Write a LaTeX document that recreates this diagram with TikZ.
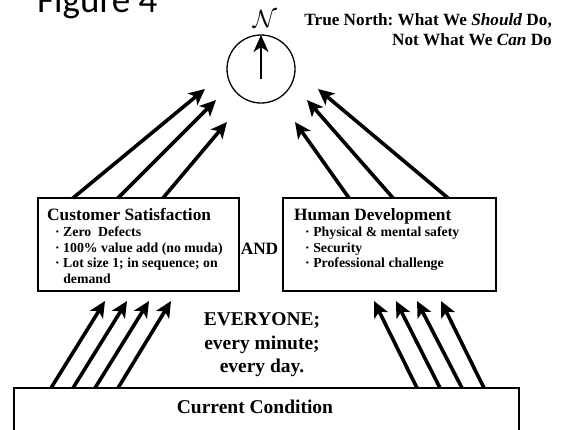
\documentclass[tikz,border=0pt]{standalone}
\usepackage{fontspec}
\setmainfont{Liberation Serif}
\newfontfamily\figfont{Carlito}
\frenchspacing
\usetikzlibrary{positioning,arrows.meta,calc}
\tikzset{panel/.style={draw,line width=2.8pt,outer sep=0pt,inner sep=0pt},
  bigarrow/.style={line width=3.6pt,-{Stealth[length=16pt,width=15pt,inset=4pt]}},
  hd/.style={font=\fontsize{17.3}{20}\selectfont\bfseries,inner sep=0pt},
  items/.style={font=\fontsize{13.8}{15.7}\selectfont\bfseries,align=left,inner sep=0pt}}

\begin{document}
\begin{tikzpicture}[x=1pt,y=-1pt]
    \clip (0,0) rectangle (569,429);
    \node[font=\figfont\fontsize{37}{37}\selectfont,anchor=base west,inner sep=0pt] (figlabel) at (37,12) {Figure 4};
    % compass and true north
    \node[draw,circle,line width=1.3pt,minimum size=68pt,inner sep=0pt,outer sep=0pt] (compass) at (261,69) {};
    \coordinate (needle) at (261,79);
    \draw[line width=2.4pt,-{Stealth[length=17pt,width=15pt,inset=5pt]}] (needle) -- (compass.north);
    \node[font=\fontsize{24}{24}\selectfont,inner sep=0pt] (north) at (265,18.5) {$\mathcal{N}$};
    \node[font=\fontsize{17.2}{20}\selectfont\bfseries,align=right,anchor=north east,inner sep=0pt] (truenorth) at (552,13)
      {True North: What We \textit{Should} Do,\\Not What We \textit{Can} Do};
    % the two goal boxes
    \node[panel,minimum width=201,minimum height=93] (cust) at (138.5,244.5) {};
    \node[panel,minimum width=213,minimum height=93] (human) at (389.5,244.5) {};
    \node[hd,anchor=base west] (custtitle) at (47,220) {Customer Satisfaction};
    \node[items,anchor=north west] (custitems) at (55,226.5)
      {· Zero\ \ Defects\\· 100\% value add (no muda)\\· Lot size 1; in sequence; on\\\phantom{· }demand};
    \node[hd,anchor=base west] (humantitle) at (294,220) {Human Development};
    \node[items,anchor=north west] (humanitems) at (305,226.5)
      {· Physical \& mental safety\\· Security\\· Professional challenge};
    \node[hd] (and) at (259.5,248.5) {AND};
    % current condition
    \node[panel,minimum width=505,minimum height=60] (curr) at (266.5,418) {};
    \node[font=\fontsize{19.5}{23}\selectfont\bfseries,anchor=base,inner sep=0pt] (currtext) at (255,413) {Current Condition};
    \node[font=\fontsize{19.5}{23.5}\selectfont\bfseries,align=center,inner sep=0pt] (every) at (262,345)
      {EVERYONE;\\every minute;\\every day.};
    % arrow tips
    \coordinate (ua1) at (205,89); \coordinate (ua2) at (216,100); \coordinate (ua3) at (227,122);
    \coordinate (ub1) at (295,122); \coordinate (ub2) at (307,100); \coordinate (ub3) at (318,89);
    \coordinate (la1) at (105,301); \coordinate (la2) at (127,301); \coordinate (la3) at (149,301); \coordinate (la4) at (171,301);
    \coordinate (lb1) at (374,301); \coordinate (lb2) at (396,301); \coordinate (lb3) at (417,301); \coordinate (lb4) at (441,301);
    % arrows up to true north
    \draw[bigarrow] ([xshift=35pt]cust.north west) -- (ua1);
    \draw[bigarrow] ([xshift=80pt]cust.north west) -- (ua2);
    \draw[bigarrow] ([xshift=125pt]cust.north west) -- (ua3);
    \draw[bigarrow] ([xshift=66pt]human.north west) -- (ub1);
    \draw[bigarrow] ([xshift=110pt]human.north west) -- (ub2);
    \draw[bigarrow] ([xshift=165pt]human.north west) -- (ub3);
    % arrows up from current condition
    \draw[bigarrow] ([xshift=37pt]curr.north west) -- (la1);
    \draw[bigarrow] ([xshift=59pt]curr.north west) -- (la2);
    \draw[bigarrow] ([xshift=81pt]curr.north west) -- (la3);
    \draw[bigarrow] ([xshift=104pt]curr.north west) -- (la4);
    \draw[bigarrow] ([xshift=403pt]curr.north west) -- (lb1);
    \draw[bigarrow] ([xshift=426pt]curr.north west) -- (lb2);
    \draw[bigarrow] ([xshift=448pt]curr.north west) -- (lb3);
    \draw[bigarrow] ([xshift=470pt]curr.north west) -- (lb4);
\end{tikzpicture}
\end{document}
